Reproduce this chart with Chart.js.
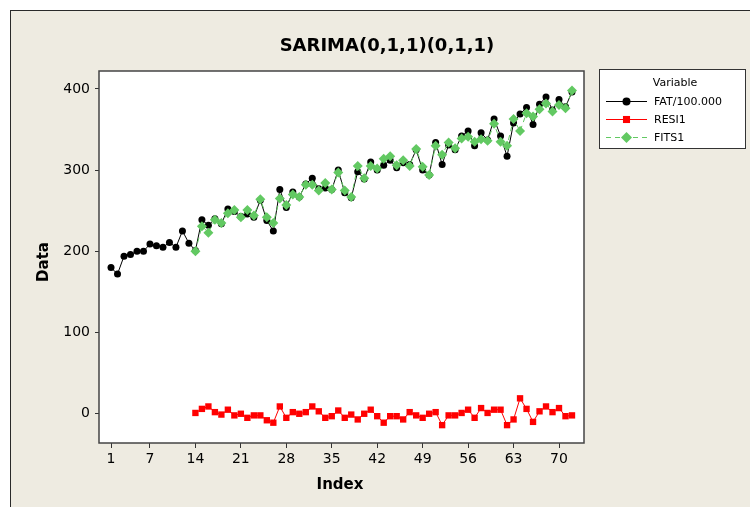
<!DOCTYPE html>
<html>
<head>
<meta charset="utf-8">
<script src="https://cdn.jsdelivr.net/npm/chart.js@4.4.1/dist/chart.umd.min.js"></script>
<style>
  html, body { margin: 0; padding: 0; background: #fff; }
  #frame {
    position: absolute; left: 10px; top: 10px; width: 760px; height: 520px;
    background: #eeebe1; border-left: 1px solid #2a2a2a; border-top: 1px solid #2a2a2a;
  }
  #myChart { position: absolute; left: 0; top: 0; }
</style>
</head>
<body>
<div id="frame"></div>
<canvas id="myChart" width="750" height="507"></canvas>
<script>
// SARIMA(0,1,1)(0,1,1) time series plot

const fatStart = 1;    // FAT/100.000 starts at index 1
const fitStart = 14;   // FITS1 / RESI1 start at index 14

const fat = [180, 172, 194, 196, 200, 200, 209, 207, 205, 211,
             205, 225, 210, 201, 239, 232, 240, 234, 252, 249,
             243, 246, 242, 263, 238, 225, 276, 254, 273, 267,
             283, 290, 277, 278, 276, 300, 272, 266, 298, 289,
             310, 300, 306, 312, 303, 309, 307, 325, 300, 294,
             334, 307, 331, 325, 342, 348, 330, 346, 337, 363,
             342, 317, 358, 369, 377, 356, 381, 390, 374, 387,
             378, 396];

const fits = [200, 231, 223, 239, 235, 247, 251, 242, 251, 244,
              264, 242, 235, 265, 257, 270, 267, 282, 282, 275,
              284, 276, 297, 275, 267, 305, 290, 305, 302, 314,
              317, 306, 312, 305, 326, 304, 294, 330, 319, 334,
              327, 339, 341, 335, 338, 336, 357, 335, 330, 363,
              348, 370, 366, 375, 382, 372, 380, 376, 398];

const resi = [1, 6, 9, 2, -1, 5, -2, 0, -5, -2,
              -2, -8, -11, 9, -5, 2, 0, 2, 9, 3,
              -5, -3, 4, -5, -1, -7, 0, 5, -3, -11,
              -3, -3, -7, 2, -2, -5, 0, 2, -14, -2,
              -2, 1, 5, -5, 7, 1, 5, 5, -14, -7,
              19, 6, -10, 3, 9, 2, 7, -3, -2];

const xTicks = [1, 7, 14, 21, 28, 35, 42, 49, 56, 63, 70];
const yTicks = [0, 100, 200, 300, 400];

const seriesNames = ['FAT/100.000', 'RESI1', 'FITS1'];
const colBlack = '#000000';
const colRed = '#ff0000';
const colGreen = '#62c962';

function toPoints(arr, start) {
    return arr.map((v, i) => ({ x: start + i, y: v }));
}

const tickFont = { family: 'DejaVu Sans', size: 14 };

// frame pieces drawn by hand: plot box, title, axis titles, legend box
const decorations = {
    id: 'decorations',
    beforeDatasetsDraw(chart) {
        const { ctx, chartArea: a } = chart;
        ctx.save();
        ctx.fillStyle = '#fff';
        ctx.fillRect(a.left, a.top, a.right - a.left, a.bottom - a.top);
        ctx.restore();
    },
    afterDraw(chart) {
        const { ctx, chartArea: a } = chart;
        ctx.save();
        ctx.strokeStyle = '#444';
        ctx.lineWidth = 1.5;
        ctx.strokeRect(a.left, a.top, a.right - a.left, a.bottom - a.top);

        ctx.fillStyle = '#000';
        ctx.textAlign = 'center';
        ctx.textBaseline = 'alphabetic';
        ctx.font = 'bold 18px "DejaVu Sans"';
        ctx.fillText('SARIMA(0,1,1)(0,1,1)', 387, 51);

        ctx.font = 'bold 15px "DejaVu Sans"';
        ctx.fillText('Index', 340, 489);
        ctx.save();
        ctx.translate(48, 262);
        ctx.rotate(-Math.PI / 2);
        ctx.fillText('Data', 0, 0);
        ctx.restore();

        // legend
        ctx.fillStyle = '#fff';
        ctx.fillRect(599.5, 69.5, 146, 79);
        ctx.strokeStyle = '#333';
        ctx.lineWidth = 1;
        ctx.strokeRect(599.5, 69.5, 146, 79);
        ctx.fillStyle = '#000';
        ctx.font = '11px "DejaVu Sans"';
        ctx.textAlign = 'center';
        ctx.fillText('Variable', 675, 86);

        const rows = [
            { y: 101, color: colBlack, dash: [], style: 'circle', r: 4 },
            { y: 119, color: colRed, dash: [], style: 'rect', r: 5 },
            { y: 137, color: colGreen, dash: [5, 4], style: 'rectRot', r: 5.5 }
        ];
        rows.forEach((row, i) => {
            ctx.strokeStyle = row.color;
            ctx.lineWidth = 1;
            ctx.setLineDash(row.dash);
            ctx.beginPath();
            ctx.moveTo(606, row.y + 0.5);
            ctx.lineTo(647, row.y + 0.5);
            ctx.stroke();
            ctx.setLineDash([]);
            ctx.fillStyle = row.color;
            Chart.helpers.drawPoint(ctx, { pointStyle: row.style, radius: row.r, borderWidth: 0 }, 626.5, row.y + 0.5);
            ctx.fillStyle = '#000';
            ctx.textAlign = 'left';
            ctx.textBaseline = 'middle';
            ctx.fillText(seriesNames[i], 654, row.y + 1);
        });
        ctx.restore();
    }
};

const ctx = document.getElementById('myChart');
const myChart = new Chart(ctx, {
    type: 'scatter',
    data: {
        datasets: [
            {
                label: seriesNames[0],
                data: toPoints(fat, fatStart),
                showLine: true,
                borderColor: colBlack,
                backgroundColor: colBlack,
                borderWidth: 1,
                pointStyle: 'circle',
                pointRadius: 3.5,
                pointBorderWidth: 0,
                order: 2
            },
            {
                label: seriesNames[1],
                data: toPoints(resi, fitStart),
                showLine: true,
                borderColor: colRed,
                backgroundColor: colRed,
                borderWidth: 1,
                pointStyle: 'rect',
                pointRadius: 4.5,
                pointBorderWidth: 0,
                order: 1
            },
            {
                label: seriesNames[2],
                data: toPoints(fits, fitStart),
                showLine: true,
                borderColor: colGreen,
                backgroundColor: colGreen,
                borderWidth: 1,
                borderDash: [5, 4],
                pointStyle: 'rectRot',
                pointRadius: 5,
                pointBorderWidth: 0,
                order: 0
            }
        ]
    },
    options: {
        responsive: false,
        animation: false,
        devicePixelRatio: 1,
        layout: { padding: { left: 0, top: 71, right: 166, bottom: 0 } },
        scales: {
            x: {
                type: 'linear',
                min: -0.85,
                max: 73.85,
                afterBuildTicks: axis => { axis.ticks = xTicks.map(v => ({ value: v })); },
                afterFit: scale => { scale.height = 64; },
                ticks: { autoSkip: false, maxRotation: 0, color: '#000', font: tickFont, padding: 3 },
                grid: { drawOnChartArea: false, drawTicks: true, tickLength: 5, color: '#333' },
                border: { display: false }
            },
            y: {
                min: -36,
                max: 422,
                afterBuildTicks: axis => { axis.ticks = yTicks.map(v => ({ value: v })); },
                afterFit: scale => { scale.width = 99; },
                ticks: { color: '#000', font: tickFont, padding: 5 },
                grid: { drawOnChartArea: false, drawTicks: true, tickLength: 4, color: '#333' },
                border: { display: false }
            }
        },
        plugins: {
            legend: { display: false },
            tooltip: { enabled: false }
        }
    },
    plugins: [decorations]
});
</script>
</body>
</html>
